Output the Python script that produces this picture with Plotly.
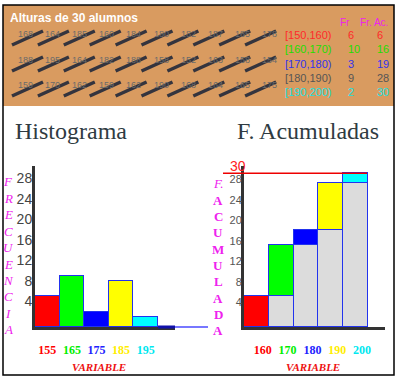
import plotly.graph_objects as go
import numpy as np

W, H = 398, 380

# ---------------- data ----------------
alturas_fila1 = [168, 164, 185, 160, 184, 180, 182, 187, 185, 178]
alturas_fila2 = [188, 195, 164, 182, 188, 158, 152, 163, 158, 154]
alturas_fila3 = [159, 170, 162, 159, 162, 190, 168, 164, 165, 175]
clases = ["[150,160)", "[160,170)", "[170,180)", "[180,190)", "[190,200)"]
marcas = [155, 165, 175, 185, 195]
limites_sup = [160, 170, 180, 190, 200]
frecuencias = [6, 10, 3, 9, 2]
acumuladas = list(np.cumsum(frecuencias))
base_gris = [a - f for a, f in zip(acumuladas, frecuencias)]
y_ticks = [4, 8, 12, 16, 20, 24, 28]
total = 30

colores_barras = ["#ff0000", "#00ff00", "#0000ff", "#ffff00", "#00ffff"]
colores_tabla = ["#ff2a2a", "#22dd00", "#3333ee", "#555555", "#22e0e0"]
colores_etiq = ["#ff0000", "#00ee00", "#2222ff", "#ffee00", "#00e8f0"]


def px(x):
    return x / W


def py(y):
    return 1 - y / H


fig = go.Figure()

edge = dict(color="#2233ee", width=1.5)

# Histogram
fig.add_trace(go.Bar(x=marcas, y=frecuencias, width=10, xaxis="x", yaxis="y",
                     marker=dict(color=colores_barras, line=edge), hoverinfo="skip"))
# Cumulative
fig.add_trace(go.Bar(x=marcas, y=base_gris, width=10, xaxis="x2", yaxis="y2",
                     marker=dict(color="#dcdcdc", line=edge), hoverinfo="skip"))
fig.add_trace(go.Bar(x=marcas, y=frecuencias, width=10, xaxis="x2", yaxis="y2",
                     marker=dict(color=colores_barras, line=edge), hoverinfo="skip"))

ydom = [py(327), py(166)]
axis_common = dict(showline=True, linecolor="#333333", linewidth=3, showgrid=False,
                   zeroline=False, ticks="")

ticktext1 = [f"<b><span style='color:{c}'>{m}</span></b>" for m, c in zip(marcas, colores_etiq)]
ticktext2 = [f"<b><span style='color:{c}'>{m}</span></b>" for m, c in zip(limites_sup, colores_etiq)]

fig.update_layout(
    width=W, height=H, margin=dict(l=0, r=0, t=0, b=0),
    paper_bgcolor="white", plot_bgcolor="rgba(0,0,0,0)",
    showlegend=False, barmode="stack", bargap=0,
    xaxis=dict(domain=[px(35), px(175)], range=[150, 206.9], anchor="y",
               tickvals=marcas, ticktext=ticktext1, ticklabelstandoff=10,
               tickfont=dict(family="Liberation Serif", size=12), **axis_common),
    yaxis=dict(domain=ydom, range=[0, 31.4], anchor="x", tickvals=y_ticks,
               ticklabelshift=-5, ticklabelstandoff=-3,
               tickfont=dict(family="Liberation Sans", size=14, color="#444444"), **axis_common),
    xaxis2=dict(domain=[px(244), px(385)], range=[150, 206.85], anchor="y2",
                tickvals=limites_sup, ticktext=ticktext2, ticklabelstandoff=10,
                ticklabelshift=-6,
                tickfont=dict(family="Liberation Serif", size=12), **axis_common),
    yaxis2=dict(domain=ydom, range=[0, 31.4], anchor="x2", tickvals=y_ticks,
                ticklabelshift=-4, ticklabelstandoff=-3,
                tickfont=dict(family="Liberation Sans", size=11, color="#555555"), **axis_common),
)

shapes = []
annotations = []

# outer frame and top panel
shapes.append(dict(type="rect", xref="paper", yref="paper", x0=px(3), x1=px(394),
                   y0=py(106), y1=py(5), fillcolor="#d99b60", line=dict(width=0), layer="below"))
shapes.append(dict(type="rect", xref="paper", yref="paper", x0=px(3), x1=px(394),
                   y0=py(375), y1=py(5), line=dict(color="black", width=1.5), layer="above"))

annotations.append(dict(text="<b>Alturas de 30 alumnos</b>", xref="paper", yref="paper",
                        x=px(8), y=py(18), xanchor="left", yanchor="middle", showarrow=False,
                        font=dict(family="Liberation Sans", size=12, color="white")))

filas = [alturas_fila1, alturas_fila2, alturas_fila3]
fila_y = [34, 60, 85]
for r, fila in enumerate(filas):
    yc = fila_y[r]
    for j, v in enumerate(fila):
        s = 12 + 25.9 * j
        shapes.append(dict(type="line", xref="paper", yref="paper", x0=px(s), y0=py(yc + 11),
                           x1=px(s + 31), y1=py(yc - 3),
                           line=dict(color="#34343e", width=3.5), layer="above"))
        annotations.append(dict(text=str(v), xref="paper", yref="paper",
                                x=px(16 + 27.1 * j), y=py(yc), xanchor="left", yanchor="middle",
                                showarrow=False,
                                font=dict(family="Liberation Sans", size=9, color="#6a6a6a")))

# table
annotations.append(dict(text="Fr", xref="paper", yref="paper", x=px(338), y=py(23),
                        xanchor="left", yanchor="middle", showarrow=False,
                        font=dict(family="Liberation Sans", size=10, color="#ee22ee")))
annotations.append(dict(text="Fr. Ac.", xref="paper", yref="paper", x=px(358), y=py(23),
                        xanchor="left", yanchor="middle", showarrow=False,
                        font=dict(family="Liberation Sans", size=10, color="#ee22ee")))
for i, (c, f, a, col) in enumerate(zip(clases, frecuencias, acumuladas, colores_tabla)):
    yc = 35 + 14.3 * i
    for txt, xx in ((c, 283), (str(f), 346), (str(a), 375)):
        annotations.append(dict(text=txt, xref="paper", yref="paper", x=px(xx), y=py(yc),
                                xanchor="left", yanchor="middle", showarrow=False,
                                font=dict(family="Liberation Sans", size=11, color=col)))

# titles
for txt, xc in (("Histograma", 71), ("F. Acumuladas", 307.5)):
    annotations.append(dict(text=txt, xref="paper", yref="paper", x=px(xc), y=py(131),
                            xanchor="center", yanchor="middle", showarrow=False,
                            font=dict(family="Liberation Serif", size=24, color="#2f3b42")))

# vertical letter labels
for k, ch in enumerate("FRECUENCIA"):
    annotations.append(dict(text=f"<i>{ch}</i>", xref="paper", yref="paper", x=px(8),
                            y=py(182 + 16.4 * k), xanchor="center", yanchor="middle",
                            showarrow=False,
                            font=dict(family="Liberation Serif", size=13, color="#ee22ee")))
for k, ch in enumerate(["<i>F.</i>"] + [f"<b>{c}</b>" for c in "ACUMULADA"]):
    annotations.append(dict(text=ch, xref="paper", yref="paper", x=px(218),
                            y=py(184 + 16.3 * k), xanchor="center", yanchor="middle",
                            showarrow=False,
                            font=dict(family="Liberation Serif", size=13, color="#ee22ee")))

# VARIABLE labels
for xc in (99, 313):
    annotations.append(dict(text="<b><i>VARIABLE</i></b>", xref="paper", yref="paper",
                            x=px(xc), y=py(367), xanchor="center", yanchor="middle",
                            showarrow=False,
                            font=dict(family="Liberation Serif", size=11, color="#ee1111")))

# total line at 30
shapes.append(dict(type="line", xref="paper", yref="y2", x0=px(223), x1=px(367),
                   y0=total, y1=total, line=dict(color="#ee0000", width=1.5), layer="above"))
annotations.append(dict(text=str(total), xref="paper", yref="y2", x=px(238), y=total,
                        xanchor="center", yanchor="bottom", showarrow=False, yshift=-3,
                        font=dict(family="Liberation Sans", size=14, color="#ff2222")))

# empty class beyond 200 and connecting line
shapes.append(dict(type="line", xref="x", yref="y domain", x0=200, x1=210, y0=0, y1=0,
                   line=dict(color="#1111aa", width=3), layer="above"))
shapes.append(dict(type="line", xref="paper", yref="y domain", x0=px(175), x1=px(208),
                   y0=0, y1=0, line=dict(color="#7777ff", width=2), layer="above"))

fig.update_layout(shapes=shapes, annotations=annotations)
fig.write_html("out.html", config={"displayModeBar": False},
               post_script="document.body.style.margin='0';")
